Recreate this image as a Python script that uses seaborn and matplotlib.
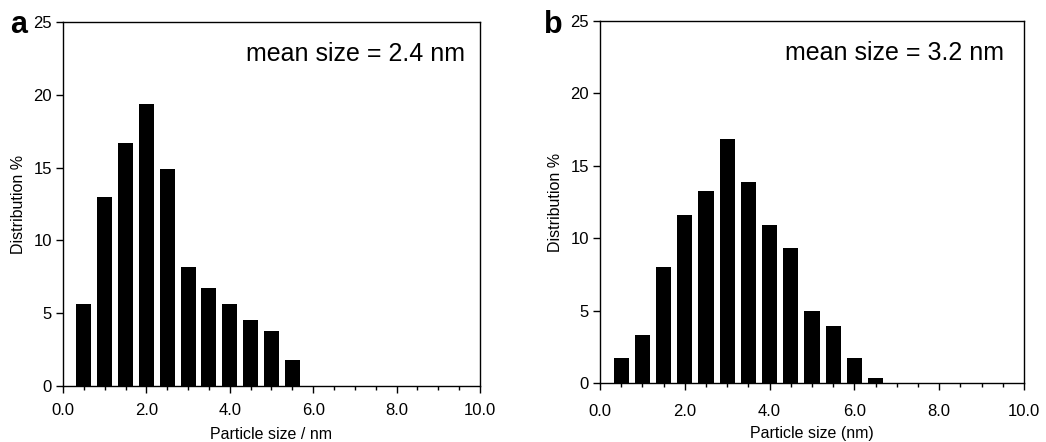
import matplotlib
matplotlib.use("Agg")
import matplotlib.pyplot as plt
from matplotlib.ticker import MultipleLocator, FormatStrFormatter
import seaborn as sns
import pandas as pd

# Particle size bins (nm) and distribution (%) for the two samples
sizes_a = [0.5, 1.0, 1.5, 2.0, 2.5, 3.0, 3.5, 4.0, 4.5, 5.0, 5.5]
dist_a = [5.6, 13.0, 16.7, 19.35, 14.9, 8.15, 6.7, 5.6, 4.5, 3.75, 1.8]

sizes_b = [0.5, 1.0, 1.5, 2.0, 2.5, 3.0, 3.5, 4.0, 4.5, 5.0, 5.5, 6.0, 6.5]
dist_b = [1.7, 3.3, 8.0, 11.6, 13.25, 16.85, 13.9, 10.9, 9.3, 5.0, 3.95, 1.7, 0.35]

panel_letters = ["a", "b"]
mean_labels = ["mean size = 2.4 nm", "mean size = 3.2 nm"]
x_labels = ["Particle size / nm", "Particle size (nm)"]
y_label = "Distribution %"

sns.set_theme(style="white")
plt.rcParams["font.family"] = ["Liberation Sans", "DejaVu Sans"]

fig = plt.figure(figsize=(10.46, 4.42), dpi=100)
ax_a = fig.add_axes([0.0602, 0.1267, 0.3987, 0.8233])
ax_b = fig.add_axes([0.5736, 0.1335, 0.4054, 0.8190])

panels = [
    (ax_a, sizes_a, dist_a),
    (ax_b, sizes_b, dist_b),
]
tick_pads = [7, 10]
xlabel_pads = [7, 5]
mean_x = [0.964, 0.953]

for i, (ax, sizes, dist) in enumerate(panels):
    df = pd.DataFrame({"size": sizes, "dist": dist})
    sns.barplot(data=df, x="size", y="dist", native_scale=True, width=0.72,
                color="black", saturation=1, edgecolor="black", linewidth=0,
                ax=ax)
    ax.set_xlim(0, 10)
    ax.set_ylim(0, 25)
    ax.xaxis.set_major_locator(MultipleLocator(2))
    ax.xaxis.set_minor_locator(MultipleLocator(0.5))
    ax.xaxis.set_major_formatter(FormatStrFormatter("%.1f"))
    ax.yaxis.set_major_locator(MultipleLocator(5))
    ax.tick_params(axis="both", which="major", direction="out", length=5,
                   width=1, color="black", labelsize=12, labelcolor="black",
                   bottom=True, left=True, pad=3)
    ax.tick_params(axis="x", which="minor", direction="out", length=3,
                   width=1, color="black", bottom=True)
    ax.tick_params(axis="x", which="major", pad=tick_pads[i])
    # the topmost y label sits beside the panel letter and is set smaller
    fig.canvas.draw()
    ax.get_yticklabels()[-1].set_fontsize(10)
    for sp in ax.spines.values():
        sp.set_visible(True)
        sp.set_color("black")
        sp.set_linewidth(1)
    ax.set_ylabel(y_label, fontsize=11.5, color="black", labelpad=5)
    ax.set_xlabel(x_labels[i], fontsize=11.5, color="black",
                  labelpad=xlabel_pads[i])
    ax.text(mean_x[i], 0.912, mean_labels[i], transform=ax.transAxes,
            ha="right", va="center", fontsize=18, color="black")
    ax.grid(False)

fig.text(0.0095, 0.925, panel_letters[0], fontsize=22, fontweight="bold",
         color="black", ha="left", va="baseline")
fig.text(0.520, 0.925, panel_letters[1], fontsize=22, fontweight="bold",
         color="black", ha="left", va="baseline")

fig.savefig("out.png", dpi=100, facecolor="white")
